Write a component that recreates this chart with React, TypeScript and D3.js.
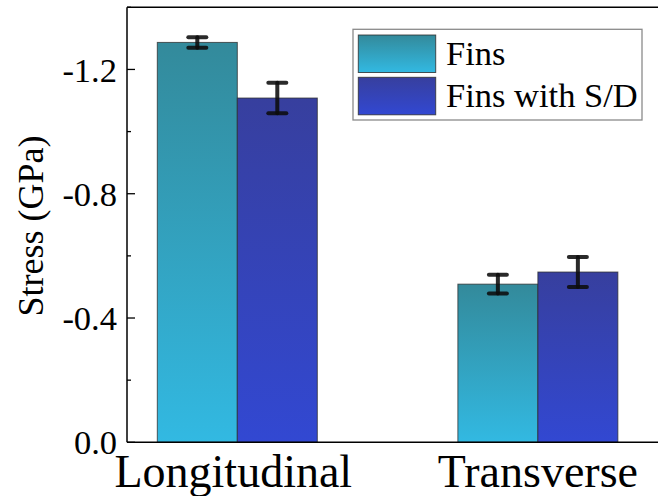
import React from "react";
import * as d3 from "d3";

const categories = ["Longitudinal", "Transverse"];
const seriesNames = ["Fins", "Fins with S/D"];
const finsValues = [-1.287, -0.509];
const finsErrors = [0.017, 0.03];
const sdValues = [-1.108, -0.548];
const sdErrors = [0.049, 0.048];
const yTicks = [0, -0.4, -0.8, -1.2];
const yMinorTicks = [-0.2, -0.6, -1.0, -1.4];

const W = 658;
const H = 496;
const left = 127;
const right = 659;
const top = 7.3;
const bottom = 442.3;

const gradStops = [
  { id: "gFins", top: "#338a9b", bottom: "#32b9e2" },
  { id: "gSD", top: "#373f9e", bottom: "#3248d2" },
];

export default function App() {
  const y = d3.scaleLinear().domain([0, -1.4]).range([bottom, top]);
  const x = d3.scaleLinear().domain([0.633, 2.403]).range([left, right]);
  const barW = 80;
  const font = "'Liberation Serif', 'Times New Roman', serif";
  const series = [
    { name: seriesNames[0], values: finsValues, errors: finsErrors, grad: "gFins", off: -1 },
    { name: seriesNames[1], values: sdValues, errors: sdErrors, grad: "gSD", off: 0 },
  ];
  return (
    <svg width={W} height={H} style={{ position: "absolute", left: 0, top: 0, background: "#fff" }}>
      <defs>
        {gradStops.map((g) => (
          <linearGradient key={g.id} id={g.id} x1="0" y1="0" x2="0" y2="1">
            <stop offset="0" stopColor={g.top} />
            <stop offset="1" stopColor={g.bottom} />
          </linearGradient>
        ))}
      </defs>
      {series.map((s) =>
        categories.map((c, i) => {
          const cx = x(i + 1);
          const x0 = cx + s.off * barW;
          const yv = y(s.values[i]);
          const ex = x0 + barW / 2;
          const e1 = y(s.values[i] - s.errors[i]);
          const e2 = y(s.values[i] + s.errors[i]);
          return (
            <g key={s.name + c}>
              <rect x={x0} y={yv} width={barW} height={bottom - yv} fill={`url(#${s.grad})`} stroke="#2b2b2b" strokeOpacity={0.75} strokeWidth={1} />
              <g stroke="#0d0d0d" strokeOpacity={0.88} strokeWidth={4} strokeLinecap="round">
                <line x1={ex} x2={ex} y1={e1} y2={e2} />
                <line x1={ex - 9} x2={ex + 9} y1={e1} y2={e1} />
                <line x1={ex - 9} x2={ex + 9} y1={e2} y2={e2} />
              </g>
            </g>
          );
        })
      )}
      <line x1={left} x2={left} y1={top} y2={bottom} stroke="#000" strokeWidth={1.5} />
      <line x1={left} x2={right} y1={top} y2={top} stroke="#000" strokeWidth={1.5} />
      <line x1={left} x2={right} y1={bottom} y2={bottom} stroke="#000" strokeWidth={1.5} />
      {yTicks.map((t) => (
        <g key={t}>
          <line x1={left} x2={left + 8} y1={y(t)} y2={y(t)} stroke="#000" strokeWidth={1.3} />
          <text x={117} y={y(t)} dy="0.35em" textAnchor="end" fontFamily={font} fontSize={34.5} fill="#000">
            {d3.format(".1f")(t).replace("−", "-")}
          </text>
        </g>
      ))}
      {yMinorTicks.map((t) => (
        <line key={t} x1={left} x2={left + 4} y1={y(t)} y2={y(t)} stroke="#000" strokeWidth={1.3} />
      ))}
      <text transform={`translate(43,226) rotate(-90)`} textAnchor="middle" fontFamily={font} fontSize={36} fill="#000">
        Stress (GPa)
      </text>
      {categories.map((c, i) => (
        <text key={c} x={x(i + 1) - (i === 0 ? 4 : 0)} y={487} textAnchor="middle" fontFamily={font} fontSize={46} fill="#000">
          {c}
        </text>
      ))}
      <rect x={353} y={29.3} width={289} height={90.7} fill="#fff" stroke="#8a8a8a" strokeWidth={1.3} />
      {series.map((s, i) => (
        <g key={s.name}>
          <rect x={358.3} y={35 + i * 42.3} width={77.4} height={37.5} fill={`url(#${s.grad})`} stroke="#2b2b2b" strokeOpacity={0.8} strokeWidth={1} />
          <text x={446} y={65 + i * 42.3} fontFamily={font} fontSize={34.5} fill="#000">
            {s.name}
          </text>
        </g>
      ))}
    </svg>
  );
}
